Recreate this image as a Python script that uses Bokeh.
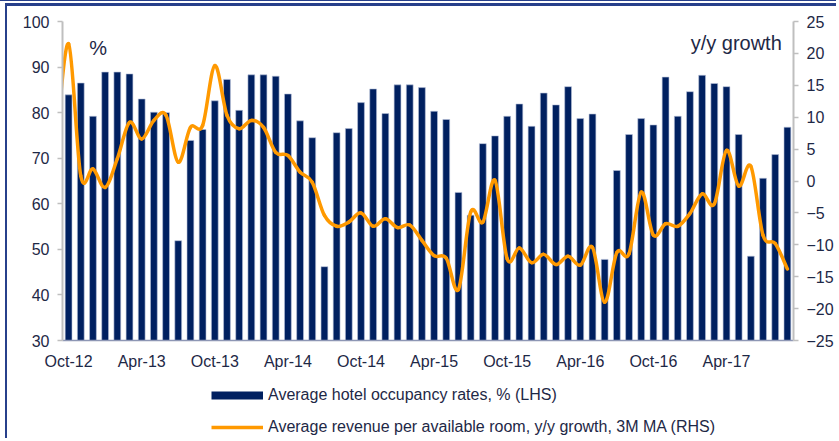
from bokeh.plotting import figure
from bokeh.layouts import column
from bokeh.models import Range1d, LinearAxis, Legend, LegendItem, Label, FixedTicker
from bokeh.embed import file_html
from bokeh.resources import INLINE

# Monthly, Oct-12 .. Sep-17
occupancy = [83.9, 86.5, 79.2, 88.9, 88.9, 88.5, 83.0, 80.1, 80.0, 51.9,
             73.9, 76.3, 82.6, 87.3, 80.5, 88.3, 88.3, 88.0, 84.1, 78.2,
             74.5, 46.2, 75.6, 76.5, 82.2, 85.2, 79.8, 86.1, 86.1, 85.5,
             80.3, 78.5, 62.5, 57.5, 73.2, 74.9, 79.2, 81.9, 77.0, 84.3,
             81.7, 85.7, 78.7, 79.7, 47.8, 67.3, 75.2, 78.7, 77.3, 87.8,
             79.2, 84.6, 88.2, 86.4, 85.7, 75.2, 48.5, 65.6, 70.8, 76.8]

# RevPAR y/y growth, 3M MA; first value is Sep-12 (just left of the axis)
revpar_sep12 = 6.0
revpar = [21.5, 0.8, 1.9, -1.0, 3.5, 9.2, 6.6, 9.5, 10.3, 2.95,
          8.4, 8.7, 18.1, 10.3, 8.2, 9.5, 8.4, 4.5, 4.0, 1.4,
          -0.2, -5.4, -7.1, -6.45, -5.0, -7.1, -5.9, -7.3, -6.9, -9.3,
          -11.7, -12.1, -17.0, -4.9, -6.45, 0.1, -12.2, -10.5, -12.8, -11.5,
          -13.1, -11.8, -13.2, -10.4, -19.0, -11.2, -11.4, -1.75, -8.5, -6.7,
          -7.1, -5.1, -2.0, -3.6, 4.8, -0.8, 2.3, -8.5, -9.8, -13.8]

tick_labels = ["Oct-12", "Apr-13", "Oct-13", "Apr-14", "Oct-14",
               "Apr-15", "Oct-15", "Apr-16", "Oct-16", "Apr-17"]

legend_labels = ["Average hotel occupancy rates, % (LHS)",
                 "Average revenue per available room, y/y growth, 3M MA (RHS)"]

NAVY = "#002060"
ORANGE = "#FF9900"
TEXT = "#1E2846"
AXIS = "#BFBFBF"
FRAME = "#27408B"
FONT = "Liberation Sans"
W = 836

# decorative outer frame lines (drawn as host background behind transparent borders)
frame_top = {
    "background": (f"linear-gradient({FRAME},{FRAME}) 5px 4px / 2px 100% no-repeat, "
                   f"linear-gradient({FRAME},{FRAME}) 5px 3px / 100% 3px no-repeat, "
                   f"linear-gradient({FRAME},{FRAME}) 0px 0px / 100% 1px no-repeat, white")
}
frame_side = {
    "background": f"linear-gradient({FRAME},{FRAME}) 5px 0px / 2px 100% no-repeat, white"
}

p = figure(width=W, height=372, x_range=Range1d(-0.5, 59.5), y_range=Range1d(30, 100),
           output_backend="svg", toolbar_location=None,
           min_border_left=62, min_border_right=W - 793, min_border_top=21, min_border_bottom=32,
           styles=frame_top)
p.extra_y_ranges = {"rhs": Range1d(-25, 25)}
p.xgrid.visible = False
p.ygrid.visible = False
p.outline_line_color = None
p.background_fill_color = "white"
p.border_fill_alpha = 0

xs = list(range(len(occupancy)))
bars = p.vbar(x=xs, top=occupancy, bottom=30, width=0.56, fill_color=NAVY,
              line_color="#B9C3DA", line_width=0.6)

# smoothed line (Catmull-Rom rendered as Bezier segments through the read values)
lx = [-1] + xs
ly = [revpar_sep12] + revpar
n = len(lx)
x0, y0, x1, y1, cx0, cy0, cx1, cy1 = [], [], [], [], [], [], [], []
for k in range(n - 1):
    km = max(k - 1, 0)
    kp = min(k + 2, n - 1)
    x0.append(lx[k]); y0.append(ly[k])
    x1.append(lx[k + 1]); y1.append(ly[k + 1])
    cx0.append(lx[k] + (lx[k + 1] - lx[km]) / 6.0)
    cy0.append(ly[k] + (ly[k + 1] - ly[km]) / 6.0)
    cx1.append(lx[k + 1] - (lx[kp] - lx[k]) / 6.0)
    cy1.append(ly[k + 1] - (ly[kp] - ly[k]) / 6.0)
p.bezier(x0=x0, y0=y0, x1=x1, y1=y1, cx0=cx0, cy0=cy0, cx1=cx1, cy1=cy1,
         line_color=ORANGE, line_width=3.5, line_cap="round", y_range_name="rhs")

# axes
xa = p.xaxis[0]
xa.ticker = FixedTicker(ticks=[i * 6 for i in range(len(tick_labels))])
xa.major_label_overrides = {i * 6: lab for i, lab in enumerate(tick_labels)}
xa.axis_line_color = "#8E97B5"
xa.axis_line_width = 1.5
xa.major_tick_line_color = None
xa.minor_tick_line_color = None
xa.major_tick_out = 0
xa.major_tick_in = 0
xa.major_label_standoff = 12

ya = p.yaxis[0]
ya.ticker = FixedTicker(ticks=list(range(30, 101, 10)))

ra = LinearAxis(y_range_name="rhs", ticker=FixedTicker(ticks=list(range(-25, 26, 5))))
p.add_layout(ra, "right")

for ax in (ya, ra):
    ax.axis_line_color = AXIS
    ax.axis_line_width = 2
    ax.major_tick_line_color = AXIS
    ax.major_tick_line_width = 1.5
    ax.major_tick_out = 5
    ax.major_tick_in = 0
    ax.minor_tick_line_color = None
    ax.major_label_standoff = 8

for ax in (xa, ya, ra):
    ax.major_label_text_font = FONT
    ax.major_label_text_font_size = "16px"
    ax.major_label_text_color = TEXT

p.add_layout(Label(x=1.69, y=94.1, text="%", text_font=FONT, text_font_size="20px",
                   text_color=TEXT, text_baseline="alphabetic", text_align="left"))
p.add_layout(Label(x=58.54, y=95.2, text="y/y growth", text_font=FONT, text_font_size="20px",
                   text_color=TEXT, text_baseline="alphabetic", text_align="right"))

# legend panel below the chart (its frame is aligned with the chart frame by the column)
q = figure(width=W, height=66, x_range=Range1d(0, 1), y_range=Range1d(0, 1),
           output_backend="svg", toolbar_location=None,
           min_border_left=0, min_border_right=0, min_border_top=0, min_border_bottom=0,
           styles=frame_side)
q.axis.visible = False
q.xgrid.visible = False
q.ygrid.visible = False
q.outline_line_color = None
q.background_fill_alpha = 0
q.border_fill_alpha = 0
nan = float("nan")
leg_bar = q.line(x=[nan], y=[nan], line_color=NAVY, line_width=8, line_cap="butt")
leg_line = q.line(x=[nan], y=[nan], line_color=ORANGE, line_width=3.5, line_cap="butt")
legend = Legend(items=[
    LegendItem(label=legend_labels[0], renderers=[leg_bar]),
    LegendItem(label=legend_labels[1], renderers=[leg_line]),
], location=(149, 1), orientation="vertical", glyph_width=52, glyph_height=20,
    label_height=20, label_standoff=5, spacing=12, padding=0, margin=0,
    border_line_color=None, background_fill_alpha=0,
    label_text_font=FONT, label_text_font_size="16px", label_text_color=TEXT)
q.add_layout(legend, "center")

layout = column(p, q, spacing=0)
open("out.html", "w").write(file_html(layout, INLINE))
